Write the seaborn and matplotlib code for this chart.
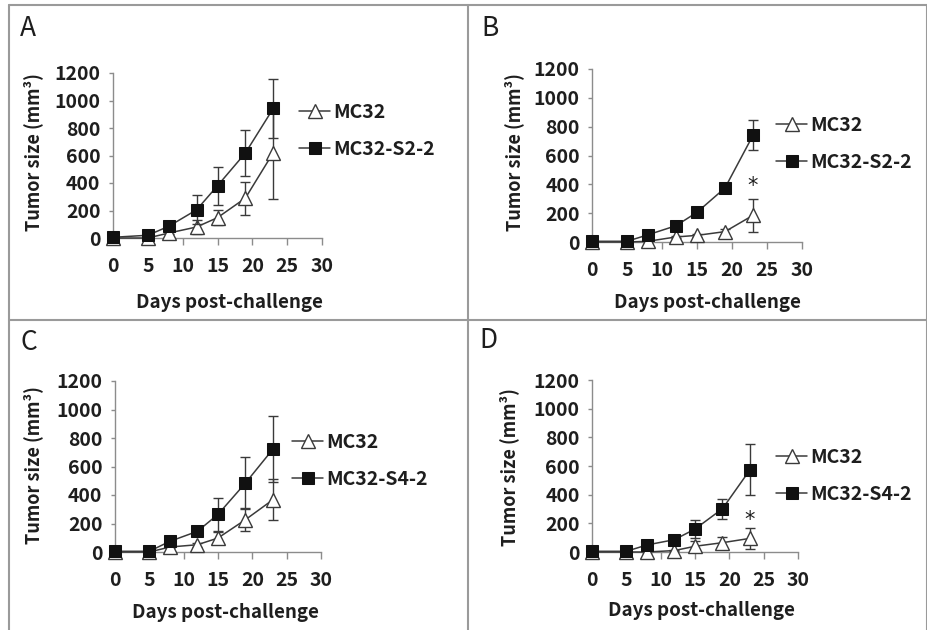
import matplotlib
matplotlib.use("Agg")
import matplotlib.pyplot as plt
import seaborn as sns
from matplotlib.lines import Line2D

# data (mean and error per time point)
days = [0, 5, 8, 12, 15, 19, 23]

a_mc32 = [0, 0, 36, 80, 148, 290, 620]
a_mc32_err = [0, 0, 10, 50, 55, 120, 335]
a_s22 = [5, 20, 85, 205, 380, 618, 942]
a_s22_err = [0, 5, 15, 105, 140, 170, 215]

b_mc32 = [0, 0, 5, 35, 46, 72, 185]
b_mc32_err = [0, 0, 5, 10, 12, 20, 115]
b_s22 = [5, 5, 50, 113, 206, 375, 740]
b_s22_err = [0, 0, 8, 15, 15, 25, 105]

c_mc32 = [0, 0, 35, 51, 98, 227, 367]
c_mc32_err = [0, 0, 8, 15, 40, 80, 145]
c_s42 = [5, 5, 75, 145, 264, 484, 722]
c_s42_err = [0, 0, 10, 25, 115, 180, 230]

d_mc32 = [0, 0, 0, 10, 40, 65, 95]
d_mc32_err = [0, 0, 0, 5, 35, 40, 75]
d_s42 = [5, 5, 49, 86, 160, 302, 573]
d_s42_err = [0, 0, 8, 15, 65, 70, 178]

sns.set_style("ticks")
plt.rcParams["font.family"] = ["Noto Sans CJK KR", "DejaVu Sans"]

W, H = 928, 630
fig = plt.figure(figsize=(W / 100, H / 100), dpi=100)
fig.patch.set_facecolor("white")

AXC = "#8c8c8c"
LC = "#3a3a3a"
TXT = "#1e1e1e"


def px(x, y):
    return x / W, 1 - y / H


# panel definitions: letter, data, axes box in pixels (left, right, y0, y1200)
panels = [
    dict(letter="A", letter_xy=(20, 28), box=(113, 322, 238, 73),
         mc=a_mc32, mc_err=a_mc32_err, kd=a_s22, kd_err=a_s22_err, kd_name="MC32-S2-2",
         leg=(299, 131), ylab=(33, 152), xlab=(229, 302), star=None),
    dict(letter="B", letter_xy=(481, 28), box=(592, 802, 242, 69),
         mc=b_mc32, mc_err=b_mc32_err, kd=b_s22, kd_err=b_s22_err, kd_name="MC32-S2-2",
         leg=(776, 144), ylab=(514, 152), xlab=(707, 303), star=386),
    dict(letter="C", letter_xy=(20, 343), box=(115, 321, 552, 381),
         mc=c_mc32, mc_err=c_mc32_err, kd=c_s42, kd_err=c_s42_err, kd_name="MC32-S4-2",
         leg=(292, 461), ylab=(33, 465), xlab=(225, 612), star=None),
    dict(letter="D", letter_xy=(479, 341), box=(592, 798, 552, 380),
         mc=d_mc32, mc_err=d_mc32_err, kd=d_s42, kd_err=d_s42_err, kd_name="MC32-S4-2",
         leg=(776, 476), ylab=(509, 467), xlab=(701, 610), star=225),
]

for p in panels:
    l, r, yb, yt = p["box"]
    ax = fig.add_axes([l / W, 1 - yb / H, (r - l) / W, (yb - yt) / H])
    ax.set_facecolor("none")

    sns.lineplot(x=days, y=p["mc"], ax=ax, color=LC, lw=1.1, marker="^",
                 markersize=9.5, markerfacecolor="white", markeredgecolor=LC,
                 markeredgewidth=1.0, label="MC32", errorbar=None, clip_on=False, zorder=3)
    ax.errorbar(days, p["mc"], yerr=p["mc_err"], fmt="none", ecolor=LC,
                elinewidth=1.0, capsize=3.5, capthick=1.0, clip_on=False, zorder=2)
    sns.lineplot(x=days, y=p["kd"], ax=ax, color=LC, lw=1.1, marker="s",
                 markersize=8.5, markerfacecolor="#111111", markeredgecolor="#111111",
                 label=p["kd_name"], errorbar=None, clip_on=False, zorder=5)
    ax.errorbar(days, p["kd"], yerr=p["kd_err"], fmt="none", ecolor=LC,
                elinewidth=1.0, capsize=3.5, capthick=1.0, clip_on=False, zorder=4)

    if p["star"] is not None:
        ax.text(23, p["star"], "*", ha="center", va="center", fontsize=15,
                color=TXT, fontfamily=["DejaVu Sans"])

    ax.set_xlim(0, 30)
    ax.set_ylim(0, 1200)
    ax.set_xticks(range(0, 31, 5))
    ax.set_yticks(range(0, 1201, 200))
    for s in ["top", "right"]:
        ax.spines[s].set_visible(False)
    for s in ["left", "bottom"]:
        ax.spines[s].set_color(AXC)
        ax.spines[s].set_linewidth(1.0)
    ax.tick_params(axis="x", direction="out", length=5, width=1, color=AXC,
                   pad=9, labelsize=14, labelcolor=TXT)
    ax.tick_params(axis="y", direction="out", length=3, width=1, color=AXC,
                   pad=6, labelsize=14, labelcolor=TXT)
    for t in ax.get_xticklabels() + ax.get_yticklabels():
        t.set_fontweight("bold")

    ax.set_xlabel("Days post-challenge", fontsize=13.5, fontweight="bold", color=TXT)
    ax.set_ylabel("Tumor size (mm³)", fontsize=13, fontweight="bold", color=TXT)
    xw = r - l
    yh = yb - yt
    ax.xaxis.set_label_coords((p["xlab"][0] - l) / xw, (yb - p["xlab"][1]) / yh)
    ax.yaxis.set_label_coords((p["ylab"][0] - l) / xw, (yb - p["ylab"][1]) / yh)
    ax.xaxis.label.set_va("center")
    ax.yaxis.label.set_va("center")

    lx, ly = px(*p["leg"])
    leg = ax.legend(loc="center left", bbox_to_anchor=(lx, ly),
                    bbox_transform=fig.transFigure, frameon=False,
                    handlelength=1.6, handletextpad=0.15, labelspacing=0.95,
                    borderaxespad=0, borderpad=0,
                    prop={"size": 14, "weight": "bold"})
    for t in leg.get_texts():
        t.set_color(TXT)

    fx, fy = px(*p["letter_xy"])
    fig.text(fx, fy, p["letter"], fontsize=19, color=TXT, va="center", ha="left")

# panel frame lines
BC = "#9a9a9a"
frame = [
    ((9, 5), (927, 5)),
    ((9, 5), (9, 630)),
    ((927, 5), (927, 630)),
    ((468, 5), (468, 630)),
    ((9, 320), (927, 320)),
]
for (x0, y0), (x1, y1) in frame:
    a0, b0 = px(x0, y0)
    a1, b1 = px(x1, y1)
    fig.add_artist(Line2D([a0, a1], [b0, b1], transform=fig.transFigure,
                          color=BC, lw=1.5))

fig.savefig("out.png", dpi=100)
